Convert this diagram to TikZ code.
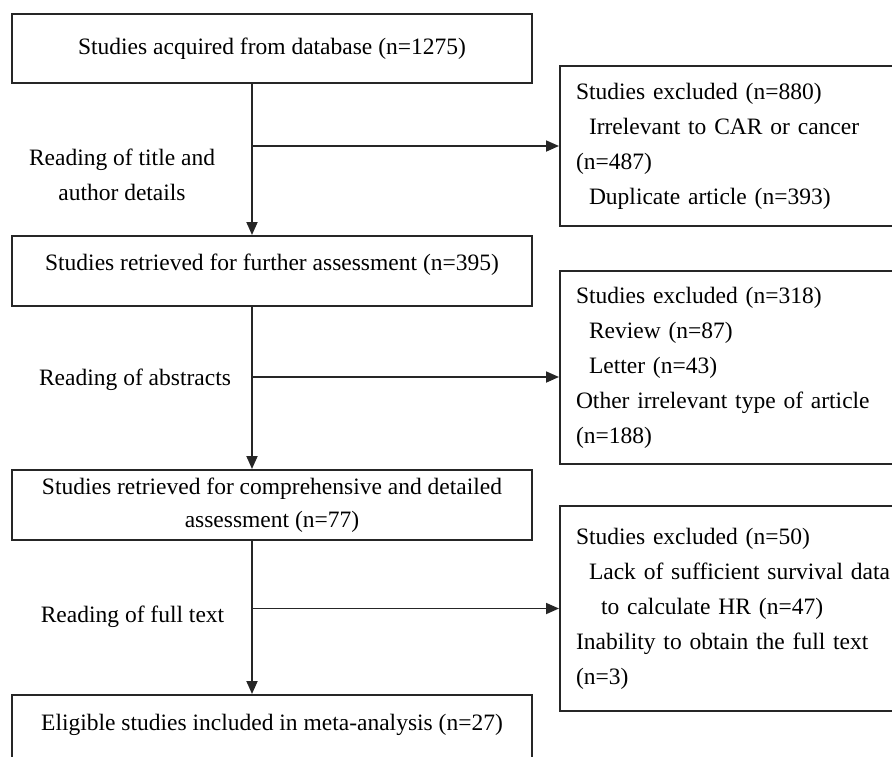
\documentclass[tikz,border=0pt]{standalone}
\usepackage{fontspec}
\setmainfont{Liberation Serif}
\usetikzlibrary{arrows.meta,positioning}

\tikzset{
  box/.style={draw=black!85, line width=2pt, rectangle, inner sep=0pt},
  mainbox/.style={box, minimum width=520pt, minimum height=70pt, align=center},
  exclbox/.style={box, anchor=north west, minimum width=362pt, text width=330pt,
    align=left, inner xsep=16pt},
  raised/.style={text depth=#1},
  flow/.style={draw=black!85, line width=1.8pt, -{Triangle[length=13pt,width=11pt]}},
}

\begin{document}
\begin{tikzpicture}[x=1pt, y=-1pt,
    every node/.style={font=\fontsize{23.5pt}{35pt}\selectfont, text=black}]

  \clip (0,0) rectangle (892,756);

  % main column
  \node[mainbox, minimum height=69pt] (acquired) at (272,48.5)
    {Studies acquired from database (n=1275)};
  \node[mainbox, raised=17pt] (further) at (272,271)
    {Studies retrieved for further assessment (n=395)};
  \node[mainbox, font=\fontsize{23.5pt}{33pt}\selectfont] (detailed) at (272,505)
    {Studies retrieved for comprehensive and detailed\\assessment (n=77)};
  \node[mainbox, anchor=north, raised=16pt] (eligible) at (272,694)
    {Eligible studies included in meta-analysis (n=27)};

  % exclusions
  \node[exclbox, minimum height=160pt] (excl1) at (559,65)
    {Studies excluded (n=880)\\
     \hspace*{13pt}Irrelevant to CAR or cancer\\
     (n=487)\\
     \hspace*{13pt}Duplicate article (n=393)};
  \node[exclbox, minimum height=193pt] (excl2) at (559,270)
    {Studies excluded (n=318)\\
     \hspace*{13pt}Review (n=87)\\
     \hspace*{13pt}Letter (n=43)\\
     Other irrelevant type of article\\
     (n=188)};
  \node[exclbox, minimum height=205pt] (excl3) at (559,505)
    {Studies excluded (n=50)\\
     \hspace*{13pt}Lack of sufficient survival data\\
     \hspace*{25pt}to calculate HR (n=47)\\
     Inability to obtain the full text\\
     (n=3)};

  % stage labels
  \node[align=center] (titlelbl) at (122,175) {Reading of title and\\author details};
  \node (abslbl) at (135,380) {Reading of abstracts};
  \node (fulllbl) at (132.5,617) {Reading of full text};

  % trunk
  \draw[flow] ([xshift=-20pt]acquired.south) -- ([xshift=-20pt]further.north);
  \draw[flow] ([xshift=-20pt]further.south) -- ([xshift=-20pt]detailed.north);
  \draw[flow] ([xshift=-20pt]detailed.south) -- ([xshift=-20pt]eligible.north);

  % branches
  \draw[flow] ([xshift=-20pt]acquired.south |- excl1.west) -- (excl1.west);
  \draw[flow] ([xshift=-20pt,yshift=-9.5pt]further.south |- excl2.west) -- ([yshift=-9.5pt]excl2.west);
  \draw[flow] ([xshift=-20pt]detailed.south |- excl3.west) -- (excl3.west);

\end{tikzpicture}
\end{document}
